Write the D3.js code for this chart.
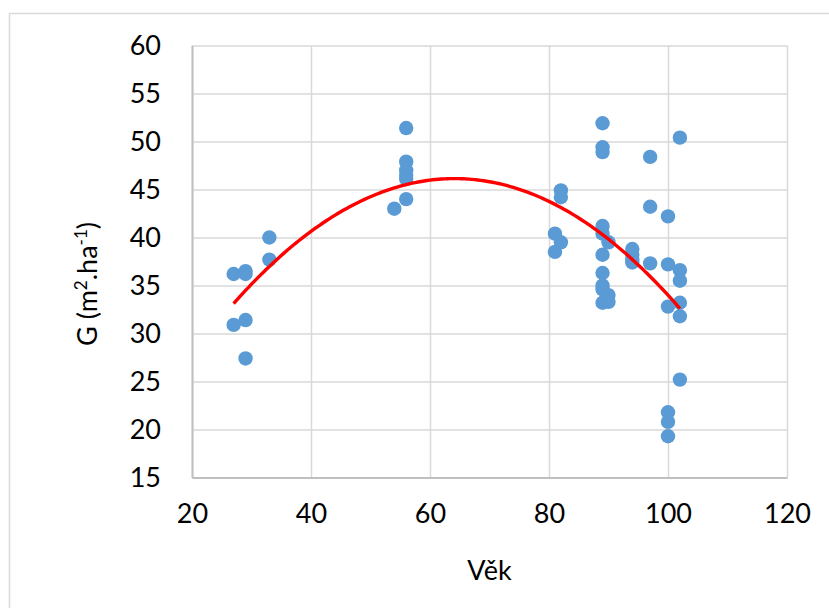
<!DOCTYPE html>
<html>
<head>
<meta charset="utf-8">
<script src="https://cdn.jsdelivr.net/npm/d3@7"></script>
<style>
  body { margin: 0; background: #fff; }
  svg { display: block; font-family: Lato, "Open Sans", sans-serif; }
</style>
</head>
<body>
<svg width="829" height="608"></svg>
<script>
// ages (Věk) and basal area G, one entry per plot
var vek = [27, 27, 29, 29, 29, 29, 33, 33, 54, 56, 56, 56, 56, 56, 56,
           81, 81, 82, 82, 82,
           89, 89, 89, 89, 89, 89, 89, 89, 89, 89,
           90, 90, 90, 94, 94, 94, 94, 97, 97, 97,
           100, 100, 100, 100, 100, 100, 102, 102, 102, 102, 102, 102];
var gHa = [36.2, 30.9, 36.5, 36.2, 31.4, 27.4, 40.0, 37.7, 43.0, 51.4, 47.9, 47.0, 46.5, 46.1, 44.0,
           40.4, 38.5, 44.9, 44.2, 39.5,
           51.9, 49.4, 48.9, 41.2, 40.4, 38.2, 36.3, 35.0, 34.6, 33.2,
           39.5, 34.0, 33.3, 38.8, 38.2, 37.7, 37.4, 48.4, 43.2, 37.3,
           42.2, 37.2, 32.8, 21.8, 20.8, 19.3, 50.4, 36.6, 35.5, 33.2, 31.8, 25.2];
var xTicks = [20, 40, 60, 80, 100, 120];
var yTicks = [15, 20, 25, 30, 35, 40, 45, 50, 55, 60];

var svg = d3.select("svg");
var margin = {top: 45.5, right: 42, bottom: 130.5, left: 192};
var width = +svg.attr("width") - margin.left - margin.right,
    height = +svg.attr("height") - margin.top - margin.bottom;

// chart frame
svg.append("rect")
   .attr("x", 9.5).attr("y", 13.5)
   .attr("width", 840).attr("height", 620)
   .attr("fill", "none").attr("stroke", "#d9d9d9").attr("stroke-width", 1.5);

var g = svg.append("g").attr("transform", "translate(" + margin.left + "," + margin.top + ")");

var x = d3.scaleLinear().domain([20, 120]).range([0, width]);
var y = d3.scaleLinear().domain([15, 60]).range([height, 0]);

// gridlines
g.append("g")
 .call(d3.axisLeft(y).tickValues(yTicks).tickSize(-width).tickFormat(""))
 .call(function(s) { s.select(".domain").remove(); })
 .selectAll("line").attr("stroke", "#d9d9d9").attr("stroke-width", 1.5);
g.append("g")
 .attr("transform", "translate(0," + height + ")")
 .call(d3.axisBottom(x).tickValues(xTicks).tickSize(-height).tickFormat(""))
 .call(function(s) { s.select(".domain").remove(); })
 .selectAll("line").attr("stroke", "#d9d9d9").attr("stroke-width", 1.5);

// axes lines + labels
var yAxis = g.append("g")
 .call(d3.axisLeft(y).tickValues(yTicks).tickSize(0).tickPadding(31));
var xAxis = g.append("g")
 .attr("transform", "translate(0," + height + ")")
 .call(d3.axisBottom(x).tickValues(xTicks).tickSize(0).tickPadding(26));
[yAxis, xAxis].forEach(function(a) {
  a.select(".domain").attr("stroke", "#bfbfbf").attr("stroke-width", 2);
  a.selectAll("text").attr("font-size", 27).attr("fill", "#000")
   .attr("font-family", "Lato, 'Open Sans', sans-serif");
});

// quadratic trendline (least squares, like Excel's polynomial order 2)
function polyFit(xs, ys) {
  var n = xs.length, s = [0, 0, 0, 0, 0], t = [0, 0, 0];
  for (var i = 0; i < n; i++) {
    var p = 1;
    for (var k = 0; k < 5; k++) { s[k] += p; if (k < 3) t[k] += p * ys[i]; p *= xs[i]; }
  }
  var A = [[s[0], s[1], s[2], t[0]], [s[1], s[2], s[3], t[1]], [s[2], s[3], s[4], t[2]]];
  for (var c = 0; c < 3; c++) {
    for (var r = c + 1; r < 3; r++) {
      var f = A[r][c] / A[c][c];
      for (var j = c; j < 4; j++) A[r][j] -= f * A[c][j];
    }
  }
  var coef = [0, 0, 0];
  for (var r2 = 2; r2 >= 0; r2--) {
    var v = A[r2][3];
    for (var j2 = r2 + 1; j2 < 3; j2++) v -= A[r2][j2] * coef[j2];
    coef[r2] = v / A[r2][r2];
  }
  return coef;
}
var coef = polyFit(vek, gHa);
var xr = d3.extent(vek);
var trend = d3.range(xr[0], xr[1] + 0.01, 0.5).map(function(v) {
  return [v, coef[0] + coef[1] * v + coef[2] * v * v];
});

// points
g.selectAll("circle")
 .data(vek.map(function(v, i) { return [v, gHa[i]]; }))
 .enter().append("circle")
 .attr("cx", function(d) { return x(d[0]); })
 .attr("cy", function(d) { return y(d[1]); })
 .attr("r", 7.2)
 .attr("fill", "#5b9bd5");

g.append("path")
 .datum(trend)
 .attr("fill", "none")
 .attr("stroke", "#ff0000")
 .attr("stroke-width", 3.4)
 .attr("d", d3.line().curve(d3.curveMonotoneX)
   .x(function(d) { return x(d[0]); })
   .y(function(d) { return y(d[1]); }));

// axis titles
svg.append("text")
   .attr("x", margin.left + width / 2).attr("y", 580)
   .attr("text-anchor", "middle").attr("font-size", 27)
   .text("Věk");

var yt = svg.append("text")
   .attr("transform", "translate(97,284) rotate(-90)")
   .attr("text-anchor", "middle").attr("font-size", 27);
yt.append("tspan").text("G (m");
yt.append("tspan").attr("font-size", 17).attr("dy", -10).text("2");
yt.append("tspan").attr("dy", 10).text(".ha");
yt.append("tspan").attr("font-size", 17).attr("dy", -10).text("-1");
yt.append("tspan").attr("dy", 10).text(")");
</script>
</body>
</html>
